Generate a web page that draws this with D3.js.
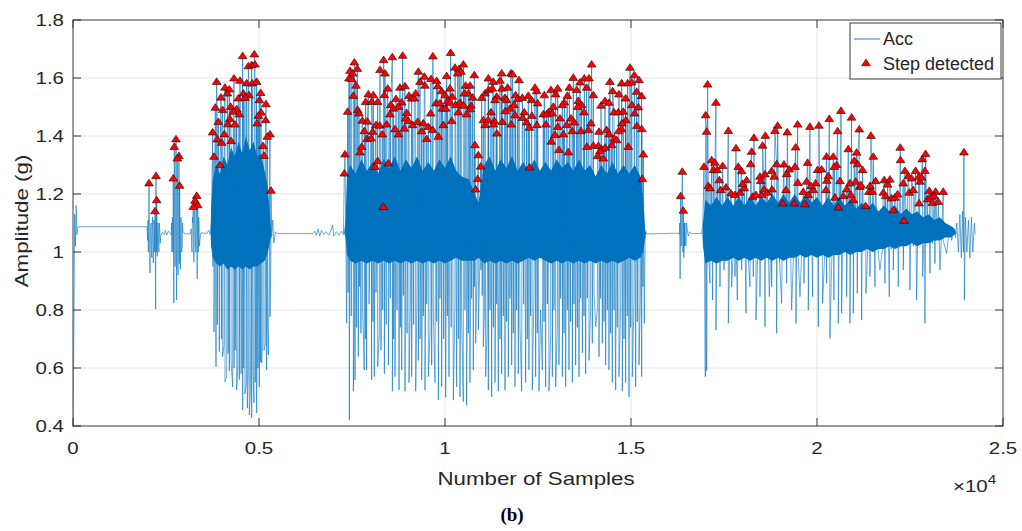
<!DOCTYPE html>
<html>
<head>
<meta charset="utf-8">
<script src="https://cdnjs.cloudflare.com/ajax/libs/d3/7.8.5/d3.min.js"></script>
<style>
  body { margin: 0; background: #ffffff; }
  text { font-family: "Liberation Sans", Arial, sans-serif; fill: #262626; }
</style>
</head>
<body>
<div id="dataviz"></div>
<script>

// ---- data (x = sample index, y = amplitude in g) ----

// tick values and labels
var xTickVals = [0, 5000, 10000, 15000, 20000, 25000];
var xTickLabels = ["0", "0.5", "1", "1.5", "2", "2.5"];
var yTickVals = [0.4, 0.6, 0.8, 1, 1.2, 1.4, 1.6, 1.8];
var yTickLabels = ["0.4", "0.6", "0.8", "1", "1.2", "1.4", "1.6", "1.8"];

// detected steps (red triangles) = local maxima of Acc
var stepPoints = [
  // three short bursts
  [2043,1.237],[2231,1.262],[2250,1.179],[2204,1.141],
  [2769,1.389],[2723,1.363],[2849,1.331],[2804,1.323],[2696,1.254],[2867,1.229],
  [3325,1.194],[3279,1.177],[3352,1.162],[3234,1.156],
  // first walk
  [4561,1.676],[4874,1.682],[4713,1.641],[4803,1.645],[4892,1.647],[3862,1.587],[4328,1.599],[4489,1.591],
  [4668,1.582],[4815,1.582],[4937,1.587],[4086,1.567],[4202,1.561],[4149,1.547],[4579,1.547],[4731,1.541],
  [3978,1.533],[4444,1.530],[4623,1.532],[5045,1.549],[5009,1.524],[3826,1.498],[4023,1.490],[4238,1.501],
  [4399,1.493],[4310,1.484],[4471,1.475],[5188,1.510],[5058,1.481],[4982,1.470],[4215,1.459],[5179,1.455],
  [3907,1.449],[4160,1.441],[4355,1.440],[4950,1.444],[3754,1.413],[4068,1.406],[5295,1.406],[5224,1.398],
  [3880,1.389],[4250,1.383],[3996,1.377],[5107,1.366],[3790,1.329],[5134,1.332],[3951,1.300],[5322,1.212],
  // second walk
  [7563,1.654],[7446,1.625],[7643,1.632],[7518,1.616],[7419,1.599],[7491,1.597],[7607,1.574],[7536,1.539],
  [7383,1.484],[7652,1.490],[7688,1.478],[7312,1.337],[7294,1.271],[7715,1.344],[7760,1.363],[7778,1.453],
  [7912,1.450],[7831,1.417],[7905,1.390],[8011,1.392],[8055,1.415],[8145,1.438],[8244,1.436],[8315,1.406],
  [8190,1.314],[8118,1.294],[8477,1.306],[8342,1.156],[8350,1.662],[8253,1.628],[8387,1.616],[8584,1.672],
  [8459,1.564],[8369,1.541],[8862,1.677],[8790,1.567],[8925,1.572],[7939,1.544],[8073,1.541],[7867,1.518],
  [8029,1.518],[8190,1.518],[8539,1.507],[8683,1.528],[8835,1.516],[8745,1.501],[8611,1.495],[8521,1.475],
  [8432,1.440],[8656,1.424],[8752,1.406],[8907,1.426],[8969,1.480],[8943,1.461],[9014,1.452],[9032,1.539],
  [9104,1.530],[9175,1.530],[9211,1.547],[9131,1.438],[9265,1.449],[9417,1.444],[9552,1.432],[9373,1.417],
  [9507,1.390],[9668,1.421],[9615,1.478],[9283,1.622],[9444,1.605],[9623,1.597],[9328,1.587],[9462,1.574],
  [9675,1.675],[9776,1.590],[9803,1.572],[9758,1.513],[9821,1.398],
  [10152,1.687],[10269,1.636],[10376,1.631],[10493,1.647],[10430,1.622],[10340,1.616],[10788,1.610],[11165,1.599],
  [11299,1.587],[11523,1.616],[11774,1.616],[11819,1.613],[11989,1.593],[11478,1.591],[10555,1.574],[10672,1.574],
  [10627,1.547],[10519,1.547],[10743,1.533],[10134,1.564],[10045,1.607],[9910,1.555],[10000,1.541],[10197,1.536],
  [10071,1.521],[9928,1.495],[10018,1.495],[9865,1.513],[10140,1.515],[10287,1.507],[10403,1.515],[10500,1.505],
  [10699,1.505],[10680,1.493],[10358,1.482],[10582,1.475],[10179,1.452],[9955,1.438],[11075,1.547],[11170,1.559],
  [10986,1.532],[11272,1.564],[11389,1.536],[11530,1.564],[11684,1.567],[11613,1.532],[11344,1.524],[11657,1.524],
  [11899,1.541],[11953,1.528],[12079,1.532],[12240,1.539],[12419,1.567],[12464,1.555],[12329,1.524],[12491,1.513],
  [11855,1.507],[11747,1.495],[11236,1.482],[11620,1.486],[11881,1.472],[12132,1.482],[12085,1.463],[12335,1.470],
  [11030,1.455],[11160,1.455],[11326,1.452],[11080,1.438],[11305,1.440],[11541,1.449],[11780,1.440],[12195,1.447],
  [12267,1.429],[12470,1.438],[11395,1.409],[10806,1.369],[10896,1.334],[10959,1.295],[10878,1.252],[10824,1.216],
  [12275,1.292],
  [13942,1.647],[14973,1.636],[15089,1.610],[15215,1.593],[13449,1.601],[13745,1.599],[13871,1.599],[14435,1.587],
  [14749,1.582],[15018,1.585],[14910,1.582],[13342,1.567],[13539,1.559],[13808,1.567],[13629,1.585],[12849,1.559],
  [13028,1.564],[12670,1.541],[12975,1.544],[13987,1.541],[13288,1.539],[15152,1.553],[15286,1.538],[13207,1.516],
  [13584,1.521],[14193,1.505],[14301,1.521],[14408,1.515],[14856,1.530],[14677,1.544],[14507,1.555],[13673,1.507],
  [13566,1.501],[12912,1.501],[13154,1.507],[12777,1.482],[12643,1.475],[12733,1.475],[12885,1.478],[13736,1.482],
  [14543,1.482],[14659,1.482],[14793,1.484],[15025,1.507],[15197,1.499],[15095,1.478],[13091,1.461],[13387,1.461],
  [13476,1.447],[13924,1.444],[14862,1.455],[14755,1.444],[12715,1.440],[13035,1.432],[13270,1.438],[13181,1.406],
  [13423,1.417],[13655,1.417],[13853,1.421],[14139,1.415],[14345,1.421],[14415,1.406],[14745,1.424],[14665,1.417],
  [15158,1.435],[15290,1.424],[12957,1.404],[12855,1.381],[14550,1.392],[14614,1.386],[14480,1.369],[13815,1.363],
  [13990,1.367],[14121,1.366],[14211,1.355],[14305,1.360],[14166,1.348],[14928,1.363],[13064,1.352],[13315,1.344],
  [14103,1.331],[14256,1.323],[15331,1.337],[15304,1.252],
  // short burst
  [16379,1.277],[16335,1.193],[16406,1.143],
  // third walk
  [17060,1.578],[17284,1.515],[17007,1.472],[17033,1.415],[17616,1.418],[17822,1.358],[18306,1.394],[18610,1.401],
  [18243,1.346],[18539,1.367],[18942,1.436],[18870,1.418],[19202,1.413],[19480,1.440],[19426,1.361],[16962,1.294],
  [17168,1.317],[17257,1.308],[17463,1.297],[17213,1.283],[17320,1.283],[17885,1.294],[17974,1.279],[18216,1.303],
  [18915,1.303],[19112,1.302],[18781,1.280],[18852,1.260],[19184,1.269],[19256,1.285],[19408,1.294],[19485,1.239],
  [17374,1.248],[18109,1.248],[18467,1.260],[18601,1.268],[17078,1.228],[17123,1.220],[17410,1.214],[17553,1.223],
  [17688,1.202],[17795,1.197],[17930,1.205],[18046,1.220],[18001,1.235],[18270,1.191],[18360,1.197],[18512,1.197],
  [18485,1.245],[18575,1.216],[18664,1.205],[18790,1.216],[19166,1.214],[19076,1.168],[19390,1.168],
  [19810,1.432],[20052,1.436],[20330,1.459],[20644,1.487],[20930,1.464],[20554,1.417],[21136,1.423],[21450,1.401],
  [20841,1.355],[21065,1.343],[20258,1.329],[20437,1.329],[21513,1.329],[21002,1.315],[21092,1.303],[19747,1.308],
  [20527,1.300],[20464,1.294],[21226,1.283],[20016,1.283],[20124,1.285],[20303,1.262],[20265,1.246],[19721,1.243],
  [19963,1.237],[19631,1.208],[19765,1.197],[19900,1.214],[19837,1.228],[19676,1.165],[20240,1.214],[20482,1.188],
  [20572,1.154],[20706,1.193],[20796,1.216],[20617,1.245],[20885,1.237],[20912,1.197],[20975,1.179],[21038,1.243],
  [21154,1.225],[21181,1.231],[21307,1.159],[21396,1.208],[21423,1.228],[21486,1.208],[21575,1.245],[21781,1.205],
  [21844,1.193],[21808,1.248],[21898,1.233],[21961,1.250],[22005,1.185],[22095,1.188],[22167,1.199],[22050,1.145],
  [22238,1.360],[22245,1.317],[22319,1.237],[22364,1.280],[22453,1.262],[22480,1.205],[22543,1.254],[22588,1.214],
  [22651,1.280],[22740,1.260],[22767,1.243],[22812,1.257],[22830,1.320],[22919,1.338],[22901,1.280],[22745,1.168],
  [22337,1.108],[23018,1.211],[22973,1.182],[23063,1.191],[23099,1.170],[23188,1.208],[23152,1.193],[23260,1.173],
  [23394,1.208],[23950,1.344]
];

// minima of Acc (light spikes below the band, plus the shallower ones inside it)
var troughPoints = [
  [3760,0.95],[3790,0.725],[3844,0.604],[3880,0.75],[3934,0.656],[3990,0.7],[4023,0.639],[4060,0.68],[4086,0.553],
  [4131,0.57],[4170,0.65],[4202,0.59],[4250,0.62],[4292,0.535],[4328,0.60],[4360,0.66],[4399,0.524],[4430,0.6],
  [4471,0.56],[4520,0.58],[4561,0.455],[4590,0.6],[4623,0.51],[4660,0.55],[4686,0.462],[4710,0.58],[4740,0.438],
  [4770,0.52],[4803,0.428],[4840,0.6],[4865,0.48],[4900,0.55],[4937,0.445],[4970,0.6],[5008,0.535],[5040,0.62],
  [5071,0.617],[5100,0.7],[5134,0.66],[5170,0.68],[5206,0.593],[5230,0.75],[5250,0.645],[5270,0.85],[5295,0.777],
  [5320,0.98],
  [7357,0.754],[7395,0.86],[7428,0.42],[7480,0.78],[7536,0.52],[7558,0.83],[7580,0.559],[7625,0.74],[7670,0.639],
  [7705,0.88],[7741,0.72],[7785,0.8],[7830,0.593],[7860,0.7],[7893,0.593],[7960,0.82],[8028,0.559],[8064,0.76],
  [8100,0.57],[8145,0.86],[8190,0.604],[8235,0.72],[8280,0.662],[8325,0.8],[8370,0.58],[8420,0.75],[8477,0.61],
  [8530,0.84],[8585,0.52],[8620,0.7],[8656,0.57],[8710,0.8],[8764,0.524],[8800,0.74],[8836,0.593],[8880,0.85],
  [8925,0.52],[8980,0.72],[9032,0.55],[9068,0.8],[9104,0.57],[9158,0.75],[9212,0.52],[9248,0.84],[9283,0.626],
  [9328,0.7],[9373,0.559],[9418,0.78],[9462,0.524],[9507,0.82],[9552,0.57],[9597,0.72],[9642,0.61],[9686,0.8],
  [9731,0.55],[9776,0.76],[9821,0.49],[9865,0.84],[9910,0.535],[9964,0.7],[10018,0.5],[10063,0.78],[10108,0.57],
  [10166,0.74],[10224,0.49],[10268,0.82],[10313,0.535],[10358,0.7],[10403,0.5],[10448,0.76],[10492,0.484],
  [10537,0.8],[10582,0.472],[10627,0.72],[10672,0.55],[10716,0.84],[10761,0.593],[10790,0.88],[10824,0.685],
  [10860,0.92],[10896,0.731],[10935,0.95],[10968,0.938],[11000,0.85],[11030,0.673],[11060,0.78],[11093,0.57],
  [11129,0.72],[11165,0.524],[11210,0.8],[11254,0.5],[11299,0.74],[11344,0.55],[11389,0.82],[11433,0.52],
  [11478,0.7],[11523,0.58],[11568,0.78],[11613,0.524],[11657,0.76],[11702,0.57],[11747,0.84],[11792,0.61],
  [11836,0.72],[11881,0.535],[11926,0.8],[11971,0.58],[12015,0.74],[12060,0.52],[12114,0.82],[12168,0.55],
  [12212,0.7],[12257,0.593],[12302,0.78],[12347,0.524],[12392,0.84],[12437,0.57],[12481,0.72],[12526,0.52],
  [12571,0.8],[12616,0.593],[12661,0.76],[12706,0.535],[12750,0.82],[12795,0.52],[12840,0.7],[12885,0.57],
  [12930,0.8],[12975,0.535],[13020,0.74],[13064,0.61],[13109,0.84],[13154,0.57],[13199,0.72],[13244,0.535],
  [13288,0.8],[13333,0.593],[13378,0.76],[13423,0.55],[13467,0.82],[13512,0.61],[13557,0.74],[13602,0.57],
  [13647,0.84],[13692,0.652],[13736,0.78],[13781,0.58],[13826,0.84],[13871,0.626],[13915,0.8],[13960,0.685],
  [14005,0.86],[14050,0.742],[14095,0.8],[14140,0.639],[14185,0.84],[14229,0.685],[14274,0.76],[14319,0.61],
  [14363,0.8],[14408,0.593],[14453,0.72],[14498,0.55],[14543,0.8],[14588,0.524],[14632,0.74],[14677,0.57],
  [14722,0.82],[14767,0.52],[14811,0.7],[14856,0.55],[14901,0.78],[14946,0.5],[14991,0.74],[15036,0.57],
  [15080,0.82],[15125,0.535],[15170,0.76],[15215,0.61],[15251,0.84],[15287,0.57],[15322,0.88],[15358,0.754],
  [16997,0.57],[17033,0.59],[17122,0.892],[17194,0.834],[17284,0.731],[17392,0.88],[17499,0.938],[17616,0.754],
  [17706,0.88],[17795,0.915],[17858,0.834],[17975,0.938],[18091,0.789],[18199,0.88],[18288,0.915],[18360,0.766],
  [18467,0.846],[18601,0.742],[18718,0.846],[18781,0.88],[18915,0.72],[19049,0.823],[19184,0.892],[19318,0.8],
  [19435,0.754],[19542,0.846],[19650,0.892],[19766,0.8],[19883,0.846],[20035,0.742],[20151,0.823],[20258,0.892],
  [20348,0.702],[20455,0.834],[20572,0.754],[20662,0.789],[20796,0.846],[20885,0.754],[20975,0.789],[21083,0.857],
  [21200,0.766],[21316,0.857],[21423,0.915],[21558,0.88],[21692,0.938],[21826,0.892],[21943,0.846],[22050,0.938],
  [22184,0.88],[22319,0.938],[22498,0.869],[22677,0.834],[22839,0.915],[22901,0.754],[23036,0.926],[23170,0.96],
  [23305,0.938],[23484,0.995],
  // shallow minima of the third walk
  [17078,1.02],[17158,0.99],[17239,1.03],[17338,1.0],[17446,1.02],[17558,0.99],[17661,1.03],[17750,1.0],
  [17827,1.02],[17917,0.99],[18033,1.03],[18145,1.0],[18244,1.02],[18324,0.99],[18414,1.03],[18534,1.0],
  [18660,1.02],[18750,0.99],[18848,1.03],[18982,1.0],[19117,1.02],[19251,0.99],[19377,1.03],[19489,1.0],
  [19596,1.02],[19708,0.99],[19825,1.03],[19959,1.0],[20093,1.02],[20205,0.99],[20303,1.03],[20402,1.0],
  [20514,1.02],[20617,0.99],[20729,1.03],[20841,1.0],[20930,1.02],[21029,1.0],[21142,1.03],[21258,1.01],
  [21370,1.03],[21490,1.0],[21625,1.03],[21759,1.01],[21885,1.04],[21997,1.01],[22117,1.04],[22252,1.02],
  [22408,1.04],[22588,1.02],[22758,1.05],[22870,1.02],[22968,1.05],[23103,1.03],[23238,1.05],[23394,1.04],
  [23530,1.05]
];

// quiet stretches and the small bursts of Acc
var quietPoints = [
  [0,0.36],[25,0.75],[45,1.13],[65,1.02],[85,1.16],[105,1.06],[130,1.087],[1990,1.087],
  [2005,1.04],[2015,1.11],[2025,1.0],[2035,1.1],[2055,1.02],[2070,0.928],[2085,1.08],[2100,1.1],[2110,1.0],
  [2120,0.98],[2130,1.1],[2140,1.12],[2150,1.02],[2160,0.962],[2175,1.11],[2185,1.09],[2195,1.0],[2222,0.803],
  [2240,1.0],[2265,0.985],[2278,1.1],[2290,1.1],[2300,1.02],[2310,1.0],[2320,1.1],[2330,1.08],[2345,1.03],
  [2360,1.055],[2400,1.068],[2450,1.06],[2480,1.075],[2520,1.058],[2560,1.072],[2600,1.065],[2640,1.06],
  [2650,1.1],[2660,1.0],[2670,1.12],[2680,1.1],[2688,1.0],[2710,0.824],[2735,1.1],[2745,0.95],[2757,1.12],
  [2786,0.835],[2795,1.1],[2815,1.0],[2825,0.92],[2838,1.12],[2858,0.96],[2875,1.1],[2885,0.94],[2900,1.12],
  [2910,1.1],[2922,1.0],[2935,1.02],[2945,1.1],[2960,1.07],[3000,1.063],[3150,1.062],[3180,1.08],
  [3190,1.02],[3200,1.0],[3210,1.12],[3220,1.1],[3242,1.05],[3250,0.965],[3265,1.12],[3290,1.05],[3300,1.0],
  [3312,1.12],[3338,0.907],[3345,1.05],[3362,1.1],[3370,1.0],[3380,1.12],[3390,1.09],[3400,1.02],[3410,1.04],
  [3440,1.066],[3600,1.064],[3650,1.075],[3690,1.06],[3720,1.1],
  [5340,1.05],[5370,1.11],[5400,1.03],[5440,1.07],[5480,1.064],[6450,1.064],[6500,1.072],[6540,1.058],[6590,1.08],
  [6630,1.055],[6680,1.075],[6740,1.06],[6800,1.07],[6880,1.058],[6940,1.075],[6980,1.093],[7010,1.055],
  [7080,1.07],[7150,1.058],[7220,1.072],[7270,1.06],
  [15380,1.04],[15400,1.07],[15430,1.062],[16280,1.065],[16300,1.06],[16310,1.1],[16320,0.907],[16328,1.05],
  [16350,1.02],[16360,1.1],[16395,1.0],[16420,0.98],[16432,1.1],[16440,1.02],[16450,1.1],[16465,1.03],
  [16480,1.02],[16495,1.1],[16510,1.08],[16540,1.055],[16580,1.07],[16620,1.064],[16900,1.064],
  [16930,1.1],[23560,1.09],[23620,1.04],[23680,1.08],[23720,1.05],[23760,1.1],[23800,1.0],[23840,1.13],
  [23880,0.98],[23910,1.14],[23935,1.0],[23962,0.834],[23990,1.12],[24030,1.0],[24070,1.11],[24110,0.98],
  [24150,1.12],[24190,1.0],[24230,1.1],[24250,1.06]
];

// dense oscillation band of Acc (too tight to separate): sample, low edge, high edge
var bandX  = [3700, 3712, 3760, 3850, 3950, 4050, 4150, 4250, 4350, 4450, 4550, 4650, 4750, 4850, 4950,
              5050, 5150, 5240, 5300, 5330,
              7290, 7330, 7365, 7450, 7600, 7750, 7900, 8050, 8200, 8350, 8500, 8650, 8800, 8950, 9100,
              9250, 9400, 9550, 9700, 9850, 10000, 10150, 10300, 10450, 10650, 10800, 10900, 10980, 11050,
              11200, 11350, 11500, 11650, 11800, 11950, 12100, 12250, 12400, 12550, 12700, 12850, 13000,
              13150, 13300, 13450, 13600, 13750, 13900, 14050, 14200, 14350, 14500, 14650, 14800, 14950,
              15100, 15250, 15330, 15380, 15400,
              16920, 16934, 17000, 17150, 17300, 17450, 17600, 17750, 17900, 18050, 18200, 18350, 18500,
              18650, 18800, 18950, 19100, 19250, 19400, 19550, 19700, 19850, 20000, 20150, 20300, 20450,
              20600, 20750, 20900, 21050, 21200, 21350, 21500, 21650, 21800, 21950, 22100, 22250, 22400,
              22550, 22700, 22850, 23000, 23150, 23300, 23450, 23600, 23700, 23750];
var bandLo = [1.065, 1.02, 0.98, 0.96, 0.95, 0.96, 0.94, 0.95, 0.94, 0.95, 0.94, 0.95, 0.94, 0.95, 0.95,
              0.96, 0.97, 1.0, 1.04, 1.065,
              1.065, 1.05, 0.99, 0.97, 0.96, 0.97, 0.96, 0.97, 0.96, 0.97, 0.96, 0.97, 0.96, 0.97, 0.96,
              0.97, 0.96, 0.97, 0.96, 0.97, 0.96, 0.97, 0.98, 0.97, 0.97, 0.97, 0.98, 0.97, 0.96,
              0.97, 0.96, 0.97, 0.96, 0.97, 0.96, 0.97, 0.98, 0.97, 0.98, 0.97, 0.96, 0.97,
              0.96, 0.97, 0.96, 0.97, 0.96, 0.97, 0.96, 0.97, 0.96, 0.97, 0.96, 0.97, 0.98,
              0.97, 0.98, 1.0, 1.05, 1.065,
              1.065, 1.02, 0.96, 0.97, 0.96, 0.97, 0.97, 0.98, 0.97, 0.98, 0.97, 0.98, 0.97,
              0.98, 0.97, 0.98, 0.97, 0.98, 0.98, 0.99, 0.98, 0.99, 0.98, 0.99, 0.98, 0.99,
              0.99, 1.0, 0.99, 1.0, 1.0, 1.01, 1.0, 1.01, 1.01, 1.02, 1.01, 1.02, 1.02,
              1.03, 1.02, 1.03, 1.03, 1.04, 1.04, 1.05, 1.05, 1.06, 1.065];
var bandHi = [1.065, 1.15, 1.25, 1.3, 1.27, 1.33, 1.3, 1.36, 1.33, 1.38, 1.34, 1.4, 1.35, 1.38, 1.33,
              1.34, 1.28, 1.22, 1.12, 1.065,
              1.065, 1.12, 1.26, 1.3, 1.27, 1.32, 1.28, 1.31, 1.27, 1.32, 1.29, 1.33, 1.28, 1.32, 1.29,
              1.33, 1.28, 1.31, 1.28, 1.32, 1.29, 1.33, 1.28, 1.26, 1.25, 1.2, 1.17, 1.24, 1.3,
              1.33, 1.28, 1.32, 1.29, 1.33, 1.28, 1.31, 1.28, 1.32, 1.28, 1.31, 1.28, 1.32,
              1.29, 1.31, 1.28, 1.32, 1.28, 1.3, 1.26, 1.3, 1.27, 1.31, 1.27, 1.3, 1.27,
              1.3, 1.26, 1.18, 1.08, 1.065,
              1.065, 1.1, 1.18, 1.16, 1.19, 1.16, 1.19, 1.16, 1.19, 1.16, 1.19, 1.16, 1.19,
              1.17, 1.2, 1.17, 1.2, 1.17, 1.2, 1.17, 1.2, 1.17, 1.19, 1.16, 1.19, 1.16,
              1.19, 1.16, 1.18, 1.15, 1.17, 1.15, 1.17, 1.14, 1.16, 1.14, 1.16, 1.13, 1.15,
              1.13, 1.14, 1.12, 1.13, 1.11, 1.12, 1.1, 1.09, 1.08, 1.065];

// ---- layout ----
var width = 1022, height = 531;
var plotLeft = 73, plotRight = 1003, plotTop = 20, plotBottom = 426;
var accColor = "#0072BD";
var axisColor = "#262626";
var stretch = 1.28;   // the figure's lettering is wider than plain Arial

var svg = d3.select("#dataviz")
  .append("svg")
  .attr("width", width)
  .attr("height", height);

var x = d3.scaleLinear().domain([0, 25000]).range([plotLeft, plotRight]);
var y = d3.scaleLinear().domain([0.4, 1.8]).range([plotBottom, plotTop]);

svg.append("clipPath").attr("id", "plotclip")
  .append("rect")
  .attr("x", plotLeft).attr("y", plotTop)
  .attr("width", plotRight - plotLeft).attr("height", plotBottom - plotTop);

// grid
var grid = svg.append("g");
grid.selectAll("vgrid").data(xTickVals).enter().append("line")
  .attr("x1", function(d){ return x(d) }).attr("x2", function(d){ return x(d) })
  .attr("y1", plotTop).attr("y2", plotBottom)
  .attr("stroke", "#e6e6e6").attr("stroke-width", 1);
grid.selectAll("hgrid").data(yTickVals).enter().append("line")
  .attr("x1", plotLeft).attr("x2", plotRight)
  .attr("y1", function(d){ return y(d) }).attr("y2", function(d){ return y(d) })
  .attr("stroke", "#e6e6e6").attr("stroke-width", 1);

var plot = svg.append("g").attr("clip-path", "url(#plotclip)");

// dense band of the signal
var band = d3.area()
  .x(function(d, i){ return x(bandX[i]) })
  .y0(function(d, i){ return y(bandLo[i]) })
  .y1(function(d, i){ return y(bandHi[i]) });
plot.append("path")
  .attr("d", band(bandX))
  .attr("fill", accColor);

// Acc line through every vertex, in sample order
var accPoints = quietPoints.concat(stepPoints, troughPoints)
  .slice()
  .sort(function(a, b){ return a[0] - b[0] });

var accLine = d3.line()
  .x(function(d){ return x(d[0]) })
  .y(function(d){ return y(d[1]) });

plot.append("path")
  .attr("d", accLine(accPoints))
  .attr("fill", "none")
  .attr("stroke", accColor)
  .attr("stroke-width", 0.6)
  .attr("stroke-linejoin", "round");

// step markers
var triangle = "M0,-3.9L4.4,2.7L-4.4,2.7Z";
plot.selectAll("steps")
  .data(stepPoints)
  .enter()
  .append("path")
    .attr("d", triangle)
    .attr("transform", function(d){ return "translate(" + x(d[0]) + "," + y(d[1]) + ")" })
    .attr("fill", "#ff0000")
    .attr("stroke", "#2a0000")
    .attr("stroke-width", 0.6);

// box and inward ticks on all four sides
var axes = svg.append("g").attr("stroke", axisColor).attr("stroke-width", 0.9);
axes.append("rect")
  .attr("x", plotLeft).attr("y", plotTop)
  .attr("width", plotRight - plotLeft).attr("height", plotBottom - plotTop)
  .attr("fill", "none").attr("stroke", "#555555").attr("stroke-width", 1.1);
axes.selectAll("xtb").data(xTickVals).enter().append("line")
  .attr("x1", function(d){ return x(d) }).attr("x2", function(d){ return x(d) })
  .attr("y1", plotBottom).attr("y2", plotBottom - 8);
axes.selectAll("xtt").data(xTickVals).enter().append("line")
  .attr("x1", function(d){ return x(d) }).attr("x2", function(d){ return x(d) })
  .attr("y1", plotTop).attr("y2", plotTop + 8);
axes.selectAll("ytl").data(yTickVals).enter().append("line")
  .attr("x1", plotLeft).attr("x2", plotLeft + 8)
  .attr("y1", function(d){ return y(d) }).attr("y2", function(d){ return y(d) });
axes.selectAll("ytr").data(yTickVals).enter().append("line")
  .attr("x1", plotRight).attr("x2", plotRight - 8)
  .attr("y1", function(d){ return y(d) }).attr("y2", function(d){ return y(d) });

// tick labels
svg.selectAll("xlab").data(xTickVals).enter().append("text")
  .attr("transform", function(d){ return "translate(" + x(d) + "," + 454 + ") scale(" + stretch + ",1)" })
  .attr("text-anchor", "middle")
  .style("font-size", "16px")
  .text(function(d, i){ return xTickLabels[i] });

svg.selectAll("ylab").data(yTickVals).enter().append("text")
  .attr("transform", function(d){ return "translate(" + 64 + "," + (y(d) + 5.5) + ") scale(" + stretch + ",1)" })
  .attr("text-anchor", "end")
  .style("font-size", "16px")
  .text(function(d, i){ return yTickLabels[i] });

// axis titles
svg.append("text")
  .attr("transform", "translate(" + 536 + "," + 485 + ") scale(" + 1.24 + ",1)")
  .attr("text-anchor", "middle")
  .style("font-size", "18px")
  .text("Number of Samples");

svg.append("text")
  .attr("transform", "translate(" + 28 + "," + 221 + ") rotate(-90) scale(" + 1.24 + ",1)")
  .attr("text-anchor", "middle")
  .style("font-size", "18px")
  .text("Amplitude (g)");

var expo = svg.append("text")
  .attr("transform", "translate(" + 953 + "," + 492 + ") scale(" + stretch + ",1)")
  .style("font-size", "16px");
expo.append("tspan").text("\u00d710");
expo.append("tspan").attr("dy", -8).style("font-size", "12px").text("4");

svg.append("text")
  .attr("x", 512).attr("y", 521)
  .attr("text-anchor", "middle")
  .style("font-family", "'Liberation Serif', 'Times New Roman', serif")
  .style("font-weight", "bold")
  .style("font-size", "19px")
  .style("fill", "#000000")
  .text("(b)");

// legend
var legend = svg.append("g");
legend.append("rect")
  .attr("x", 850).attr("y", 23).attr("width", 151).attr("height", 56)
  .attr("fill", "#ffffff").attr("stroke", axisColor).attr("stroke-width", 0.9);
legend.append("line")
  .attr("x1", 854).attr("x2", 880).attr("y1", 39).attr("y2", 39)
  .attr("stroke", accColor).attr("stroke-width", 0.9);
legend.append("text")
  .attr("x", 883).attr("y", 45)
  .style("font-size", "18px")
  .text("Acc");
legend.append("path")
  .attr("d", triangle)
  .attr("transform", "translate(866,63)")
  .attr("fill", "#ff0000").attr("stroke", "#2a0000").attr("stroke-width", 0.6);
legend.append("text")
  .attr("x", 883).attr("y", 70)
  .style("font-size", "18px")
  .text("Step detected");

</script>
</body>
</html>
